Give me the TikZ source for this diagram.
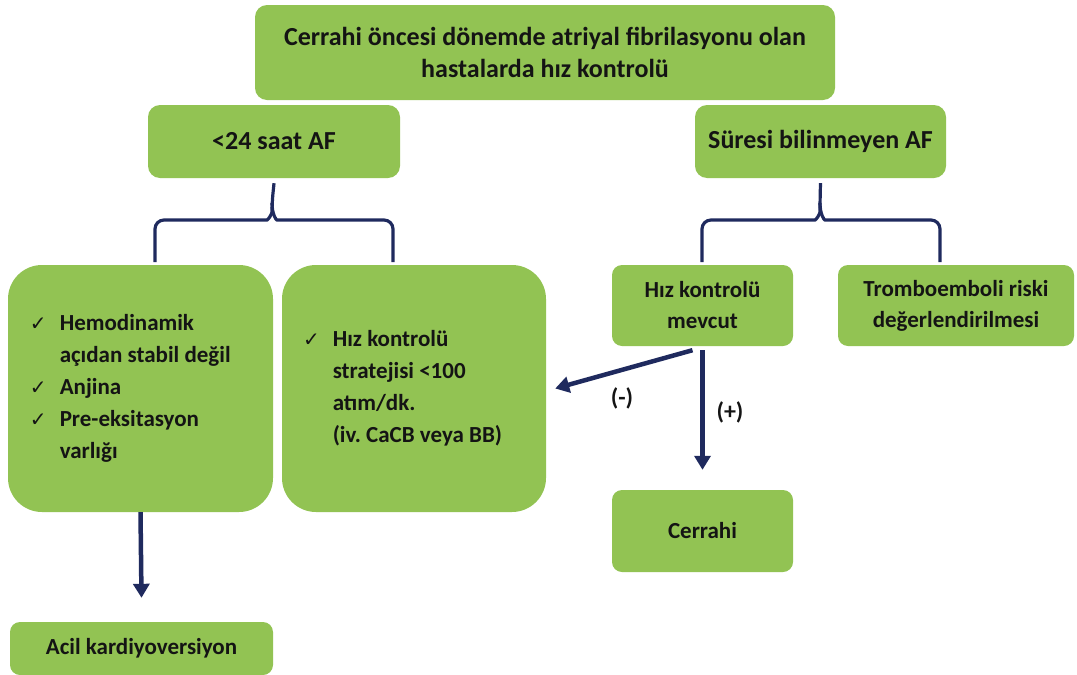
\documentclass[tikz,border=0pt]{standalone}
\usepackage{fontspec}
\setmainfont{Carlito}
\newfontfamily\symfont{DejaVu Sans}
\definecolor{mGreen}{HTML}{92C353}
\definecolor{mNavy}{HTML}{1F2A5E}
\definecolor{mInk}{HTML}{141414}
\usetikzlibrary{arrows.meta, positioning}
\newcommand{\ck}{{\symfont\fontsize{20}{20}\selectfont ✓}}
\frenchspacing

\begin{document}
\begin{tikzpicture}[x=1pt, y=-1pt,
  box/.style={fill=mGreen, draw=none, rounded corners=12pt, text=mInk,
              font=\fontsize{23}{31}\selectfont\bfseries, align=center, inner sep=0pt},
  headbox/.style={box, font=\fontsize{26}{32}\selectfont\bfseries},
  bigbox/.style={box, rounded corners=34pt, align=left, font=\fontsize{23}{32}\selectfont\bfseries},
  brace/.style={draw=mNavy, line width=3.2pt, rounded corners=9pt},
  flow/.style={draw=mNavy, line width=4.5pt, -{Triangle[length=14pt, width=16pt]}},
  sign/.style={text=mInk, font=\fontsize{24}{28}\selectfont\bfseries}]
  \useasboundingbox (0,0) rectangle (1077,675);
  \node[headbox, minimum width=580pt, minimum height=95pt] (top) at (545,52.5)
       {Cerrahi öncesi dönemde atriyal fibrilasyonu olan\\hastalarda hız kontrolü};
  \node[headbox, minimum width=252pt, minimum height=73pt] (lt) at (274,141.5) {<24 saat AF};
  \node[headbox, minimum width=251pt, minimum height=73pt] (rt) at (820.5,141.5) {Süresi bilinmeyen AF};
  \node[bigbox, minimum width=265pt, minimum height=247pt, text width=221pt] (hem) at (140.5,388.5)
       {\spaceskip=0pt \xspaceskip=0pt
        \begin{tabular}{@{}l@{\hspace{13pt}}l@{}}
        \ck & Hemodinamik\\
            & açıdan stabil değil\\
        \ck & Anjina\\
        \ck & Pre-eksitasyon\\
            & varlığı
        \end{tabular}};
  \node[bigbox, minimum width=264pt, minimum height=247pt, text width=222pt] (mid) at (414,388.5)
       {\spaceskip=0pt \xspaceskip=0pt
        \begin{tabular}{@{}l@{\hspace{13pt}}l@{}}
        \ck & Hız kontrolü\\
            & stratejisi <100\\
            & atım/dk.\\
            & (iv. CaCB veya BB)
        \end{tabular}};
  \node[box, rounded corners=10pt, minimum width=181pt, minimum height=81pt] (hm) at (702.5,305.5)
       {Hız kontrolü\\mevcut};
  \node[box, rounded corners=10pt, minimum width=236pt, minimum height=81pt] (tr) at (956,305.5)
       {Tromboemboli riski\\değerlendirilmesi};
  \node[box, rounded corners=10pt, minimum width=181pt, minimum height=82pt] (cer) at (702.5,531) {Cerrahi};
  \node[box, rounded corners=10pt, minimum width=263pt, minimum height=53pt] (acil) at (141.5,648.5)
       {Acil kardiyoversiyon};
  \coordinate (la) at (155,262);
  \coordinate (lb) at (393,262);
  \coordinate (ra) at (702,262);
  \coordinate (rb) at (940,262);
  \draw[brace] (la) -- (la |- 0,220) -- (258,220) .. controls (268,220) and (272,214) .. (272,203) -- ([yshift=-5pt]lt.south);
  \draw[brace] (lb) -- (lb |- 0,220) -- (286,220) .. controls (276,220) and (272,214) .. (272,203);
  \draw[brace] (ra) -- (ra |- 0,220) -- (806,220) .. controls (816,220) and (820,214) .. (820,203) -- ([yshift=-5pt]rt.south);
  \draw[brace] (rb) -- (rb |- 0,220) -- (834,220) .. controls (824,220) and (820,214) .. (820,203);
  \draw[flow] ([xshift=-10pt, yshift=-4pt]hm.south) -- ([xshift=9pt]mid.east);
  \draw[flow] ([yshift=-4pt]hm.south) -- ([yshift=20pt]cer.north);
  \draw[flow] (hem.south) -- ([yshift=24pt]acil.north);
  \node[sign] (neg) at (622,398) {(-)};
  \node[sign] (pos) at (730,412) {(+)};
\end{tikzpicture}
\end{document}
